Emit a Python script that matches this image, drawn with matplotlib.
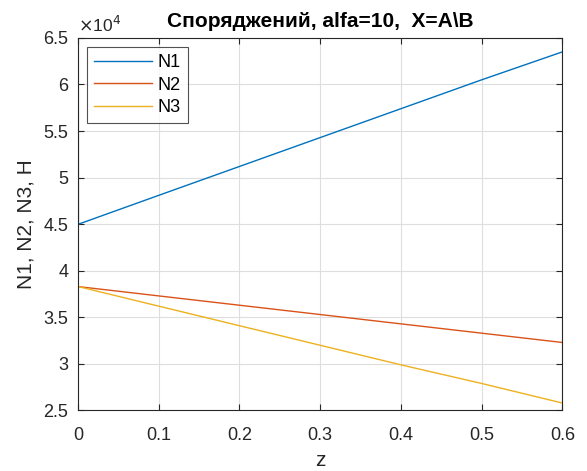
import matplotlib
matplotlib.use('Agg')
import matplotlib.pyplot as plt
from matplotlib.ticker import FuncFormatter

plt.rcParams['font.family'] = ['Liberation Sans', 'DejaVu Sans']

# values (N in units of 1)
z = [0.0, 0.0002, 0.0004, 0.1, 0.2, 0.3, 0.4, 0.5, 0.6]
n1 = [38300, 80000, 45000, 48100, 51200, 54300, 57400, 60500, 63500]
n2 = [38300, 38300, 38300, 37300, 36300, 35300, 34300, 33300, 32300]
n3 = [20000, 38300, 38300, 36200, 34100, 32000, 29900, 27900, 25800]
names = ["N1", "N2", "N3"]
colors = ["#0072BD", "#D95319", "#EDB120"]

fig = plt.figure(figsize=(5.87, 4.71), dpi=100)
ax = fig.add_axes([0.133, 0.1285, 0.825, 0.791])

for vals, name, c in zip([n1, n2, n3], names, colors):
    ax.plot(z, vals, color=c, lw=1.0, label=name)

ax.set_xlim(0, 0.6)
ax.set_ylim(25000, 65000)
ax.set_xticks([0, 0.1, 0.2, 0.3, 0.4, 0.5, 0.6])
ax.set_yticks([25000, 30000, 35000, 40000, 45000, 50000, 55000, 60000, 65000])
ax.xaxis.set_major_formatter(FuncFormatter(lambda v, p: f"{v:g}"))
ax.yaxis.set_major_formatter(FuncFormatter(lambda v, p: f"{v / 1e4:g}"))
ax.tick_params(direction='in', top=True, right=True, labelsize=13, colors='#262626', length=4)
ax.tick_params(axis='x', pad=12)
ax.tick_params(axis='y', pad=7)
ax.grid(True, color='#dedede', lw=0.8)
ax.set_axisbelow(True)
for s in ax.spines.values():
    s.set_color('#262626')
    s.set_linewidth(0.8)

ax.set_xlabel("z", fontsize=15, color='#262626', labelpad=5)
ax.set_ylabel("N1, N2, N3, H", fontsize=15, color='#262626', labelpad=6)
ax.set_title("Споряджений, alfa=10,  X=A\\B", fontsize=15, fontweight='bold', pad=8)
ax.text(0.0, 1.008, r"$\times$10$^4$", transform=ax.transAxes, fontsize=12.5,
        color='#262626', ha='left', va='bottom')

leg = ax.legend(loc='upper left', fontsize=13, frameon=True, fancybox=False,
                edgecolor='#262626', handlelength=3.2, handletextpad=0.3,
                labelspacing=0.3, borderpad=0.4, borderaxespad=0.5)
leg.get_frame().set_linewidth(0.8)

fig.savefig("out.png", dpi=100, facecolor='white')
